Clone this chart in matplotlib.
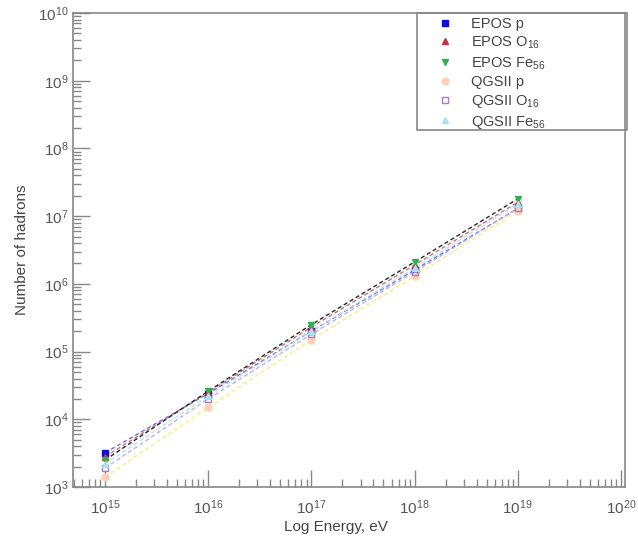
import matplotlib
matplotlib.use("Agg")
import matplotlib.pyplot as plt
from matplotlib.ticker import FixedLocator, NullFormatter, LogFormatterMathtext
from matplotlib.patches import Rectangle

plt.rcParams['font.family'] = ['Liberation Sans', 'DejaVu Sans']
plt.rcParams['mathtext.fontset'] = 'custom'
plt.rcParams['mathtext.rm'] = 'Liberation Sans'

energy = [1e15, 1e16, 1e17, 1e18, 1e19]
labels = ["EPOS p", "EPOS O$_{16}$", "EPOS Fe$_{56}$",
          "QGSII p", "QGSII O$_{16}$", "QGSII Fe$_{56}$"]
epos_p = [3.2e3, 2.4e4, 2.0e5, 1.6e6, 1.3e7]
epos_o = [2.8e3, 2.5e4, 2.3e5, 1.9e6, 1.6e7]
epos_fe = [2.5e3, 2.6e4, 2.5e5, 2.1e6, 1.8e7]
qgs_p = [1.4e3, 1.5e4, 1.5e5, 1.3e6, 1.2e7]
qgs_o = [1.9e3, 2.0e4, 1.8e5, 1.5e6, 1.3e7]
qgs_fe = [2.2e3, 2.2e4, 2.0e5, 1.7e6, 1.5e7]
x_major = [1e15, 1e16, 1e17, 1e18, 1e19, 1e20]
y_major = [1e3, 1e4, 1e5, 1e6, 1e7, 1e8, 1e9, 1e10]

series = [epos_p, epos_o, epos_fe, qgs_p, qgs_o, qgs_fe]
colors = ['#1010d0', '#c83040', '#30b050', '#ffd0b8', '#a080c8', '#a8e4f0']
line_colors = ['#7070e0', '#d07080', '#203020', '#f4f080', '#c0b0e8', '#b0e8f0']
markers = ['s', '^', 'v', 'o', 's', '^']
filled = [True, True, True, True, False, True]

fig = plt.figure(figsize=(6.38, 5.43), dpi=100)
ax = fig.add_axes([73/638, 1-487/543, (625-73)/638, (487-13)/543])

xmin, xmax = 10**14.69, 10**20.04
ymin, ymax = 1e3, 1e10

handles = []
for vals, lab, c, lc, m, f in zip(series, labels, colors, line_colors, markers, filled):
    ax.plot(energy, vals, linestyle=(0, (3, 2)), color=lc, linewidth=1.0, zorder=2)
    h, = ax.plot(energy, vals, linestyle='none', marker=m, markersize=5,
                 markerfacecolor=c if f else 'none', markeredgecolor=c,
                 label=lab, zorder=3)
    handles.append(h)

ax.set_xscale('log')
ax.set_yscale('log')
ax.set_xlim(xmin, xmax)
ax.set_ylim(ymin, ymax)

for sp in ax.spines.values():
    sp.set_color('#888888')
    sp.set_linewidth(1.2)

x_minor = [float(s) * 10.0**d for d in range(14, 20) for s in range(2, 10)
           if xmin < float(s) * 10.0**d < xmax]
y_minor = [float(s) * 10.0**d for d in range(3, 10) for s in range(2, 10)]
ax.xaxis.set_major_locator(FixedLocator(x_major))
ax.yaxis.set_major_locator(FixedLocator(y_major))
ax.xaxis.set_major_formatter(LogFormatterMathtext())
ax.yaxis.set_major_formatter(LogFormatterMathtext())
ax.xaxis.set_minor_locator(FixedLocator(x_minor))
ax.yaxis.set_minor_locator(FixedLocator(y_minor))
ax.xaxis.set_minor_formatter(NullFormatter())
ax.yaxis.set_minor_formatter(NullFormatter())
ax.tick_params(which='major', direction='in', length=12, width=1, color='#888888',
               labelsize=11, labelcolor='#555555', top=False, right=False)
ax.tick_params(which='minor', direction='in', length=6, width=1, color='#888888',
               top=False, right=False)
ax.tick_params(axis='x', which='major', pad=8)

ax.set_ylabel("Number of hadrons", fontsize=11, color='#444444', labelpad=6)
fig.text(388/638, 1-527/543, "Log Energy, eV", fontsize=11, color='#444444',
         ha='right', va='center')

fig.patches.append(Rectangle((417/638, 1-130/543), (627-417)/638, (130-13)/543,
                             transform=fig.transFigure, fill=False,
                             edgecolor='#888888', linewidth=1.2, zorder=5))
leg = fig.legend(handles=handles, loc='upper left',
                 bbox_to_anchor=(435/638, 1-14/543), frameon=False,
                 fontsize=10.5, labelspacing=0.25,
                 handlelength=1.0, handletextpad=1.3, borderpad=0.2,
                 borderaxespad=0)
for t in leg.get_texts():
    t.set_color('#444444')

fig.savefig("out.png", dpi=100)
